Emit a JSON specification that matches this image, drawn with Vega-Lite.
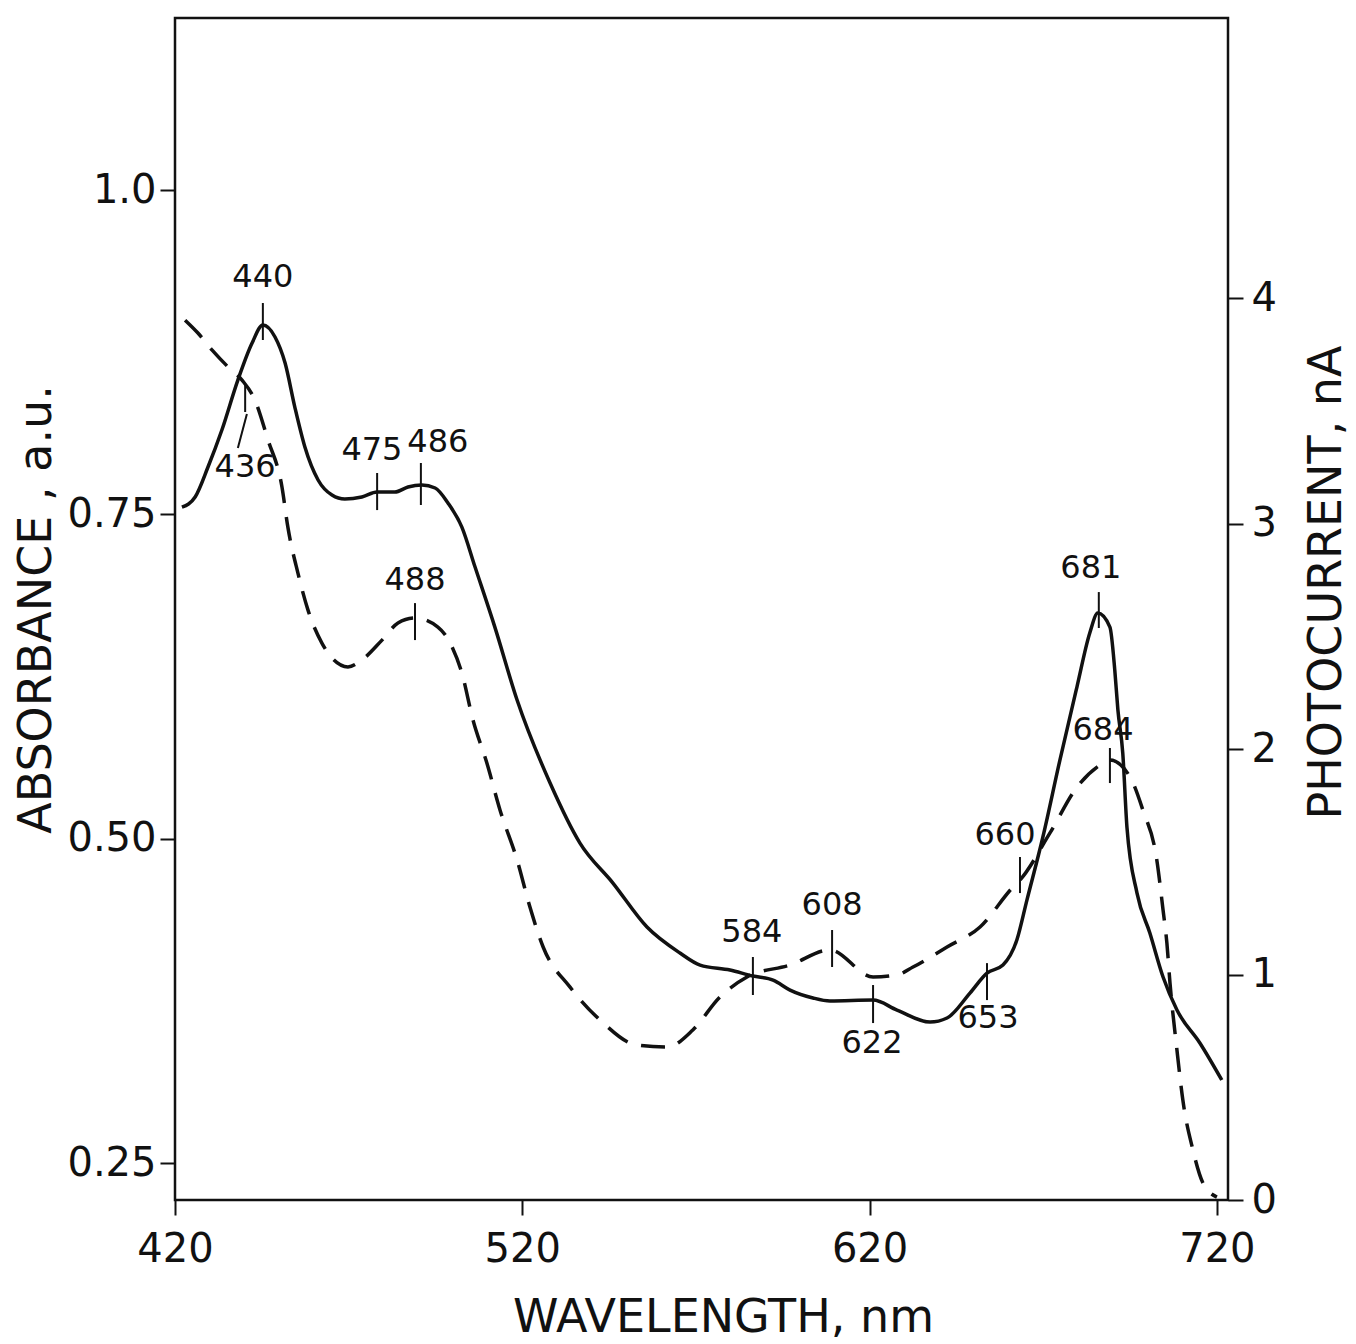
{
  "$schema": "https://vega.github.io/schema/vega-lite/v6.json",
  "width": 1053,
  "height": 1182,
  "autosize": {"type": "none"},
  "padding": {"left": 175, "top": 18, "right": 128, "bottom": 144},
  "background": "white",
  "config": {
    "view": {"stroke": "#111", "strokeWidth": 2.5},
    "font": "DejaVu Sans",
    "axis": {
      "domain": false,
      "grid": false,
      "ticks": true,
      "tickColor": "#111",
      "tickWidth": 2,
      "tickSize": 15,
      "labelFlush": false,
      "labelOverlap": false,
      "labelColor": "#111",
      "labelFont": "DejaVu Sans",
      "labelFontSize": 40,
      "titleFont": "DejaVu Sans",
      "titleFontSize": 46,
      "titleFontWeight": "normal",
      "titleColor": "#111"
    }
  },
  "datasets": {
    "abs": [
      {"wl": 422.0, "A": 0.7556}, {"wl": 425.8, "A": 0.7634}, {"wl": 429.5, "A": 0.7865},
      {"wl": 433.5, "A": 0.8150}, {"wl": 438.1, "A": 0.8535}, {"wl": 442.2, "A": 0.8821},
      {"wl": 445.3, "A": 0.8959}, {"wl": 448.8, "A": 0.8867}, {"wl": 451.7, "A": 0.8666},
      {"wl": 454.5, "A": 0.8327}, {"wl": 457.4, "A": 0.8019}, {"wl": 461.2, "A": 0.7765},
      {"wl": 465.2, "A": 0.7649}, {"wl": 468.9, "A": 0.7618}, {"wl": 473.8, "A": 0.7634},
      {"wl": 478.2, "A": 0.7672}, {"wl": 483.3, "A": 0.7672}, {"wl": 487.1, "A": 0.7711},
      {"wl": 491.1, "A": 0.7726}, {"wl": 494.9, "A": 0.7703}, {"wl": 498.6, "A": 0.7587},
      {"wl": 502.6, "A": 0.7402}, {"wl": 506.4, "A": 0.7094}, {"wl": 512.1, "A": 0.6631},
      {"wl": 518.5, "A": 0.6069}, {"wl": 528.0, "A": 0.5429}, {"wl": 536.6, "A": 0.4966},
      {"wl": 546.1, "A": 0.4658}, {"wl": 555.9, "A": 0.4319}, {"wl": 565.4, "A": 0.4119},
      {"wl": 571.2, "A": 0.4026}, {"wl": 579.8, "A": 0.3988}, {"wl": 586.4, "A": 0.3941},
      {"wl": 592.2, "A": 0.3910}, {"wl": 597.1, "A": 0.3833}, {"wl": 603.7, "A": 0.3772},
      {"wl": 608.6, "A": 0.3749}, {"wl": 621.0, "A": 0.3756}, {"wl": 627.9, "A": 0.3679},
      {"wl": 637.4, "A": 0.3587}, {"wl": 642.3, "A": 0.3618}, {"wl": 648.9, "A": 0.3810},
      {"wl": 653.8, "A": 0.3964}, {"wl": 658.4, "A": 0.4026}, {"wl": 662.4, "A": 0.4219},
      {"wl": 665.3, "A": 0.4527}, {"wl": 669.9, "A": 0.5013}, {"wl": 674.8, "A": 0.5606},
      {"wl": 679.7, "A": 0.6169}, {"wl": 683.4, "A": 0.6585}, {"wl": 685.7, "A": 0.6739},
      {"wl": 689.2, "A": 0.6631}, {"wl": 690.6, "A": 0.6300}, {"wl": 691.5, "A": 0.5992},
      {"wl": 692.9, "A": 0.5660}, {"wl": 694.1, "A": 0.5090}, {"wl": 697.0, "A": 0.4581},
      {"wl": 700.7, "A": 0.4273}, {"wl": 704.5, "A": 0.3934}, {"wl": 708.5, "A": 0.3679},
      {"wl": 715.1, "A": 0.3425}, {"wl": 721.4, "A": 0.3140}
    ],
    "pc": [
      {"wl": 422.9, "P": 3.902}, {"wl": 426.6, "P": 3.845}, {"wl": 430.7, "P": 3.769},
      {"wl": 435.3, "P": 3.694}, {"wl": 439.3, "P": 3.636}, {"wl": 443.0, "P": 3.548},
      {"wl": 446.8, "P": 3.370}, {"wl": 450.8, "P": 3.162}, {"wl": 452.5, "P": 2.984},
      {"wl": 455.4, "P": 2.780}, {"wl": 458.3, "P": 2.616}, {"wl": 462.3, "P": 2.470},
      {"wl": 469.8, "P": 2.364}, {"wl": 473.8, "P": 2.395}, {"wl": 479.6, "P": 2.483},
      {"wl": 484.2, "P": 2.559}, {"wl": 489.1, "P": 2.581}, {"wl": 495.7, "P": 2.541},
      {"wl": 499.8, "P": 2.452}, {"wl": 502.6, "P": 2.337}, {"wl": 505.8, "P": 2.129},
      {"wl": 509.8, "P": 1.938}, {"wl": 513.6, "P": 1.729}, {"wl": 518.5, "P": 1.508},
      {"wl": 522.2, "P": 1.299}, {"wl": 526.0, "P": 1.122}, {"wl": 533.7, "P": 0.945},
      {"wl": 542.4, "P": 0.798}, {"wl": 553.0, "P": 0.687}, {"wl": 561.7, "P": 0.678},
      {"wl": 569.1, "P": 0.754}, {"wl": 576.9, "P": 0.900}, {"wl": 584.7, "P": 0.989},
      {"wl": 597.1, "P": 1.042}, {"wl": 608.6, "P": 1.109}, {"wl": 621.0, "P": 0.989},
      {"wl": 627.9, "P": 0.998}, {"wl": 632.5, "P": 1.033}, {"wl": 642.3, "P": 1.122},
      {"wl": 651.8, "P": 1.211}, {"wl": 661.3, "P": 1.388}, {"wl": 663.3, "P": 1.419},
      {"wl": 671.9, "P": 1.627}, {"wl": 679.7, "P": 1.831}, {"wl": 685.5, "P": 1.920},
      {"wl": 689.2, "P": 1.951}, {"wl": 695.0, "P": 1.876}, {"wl": 698.7, "P": 1.729},
      {"wl": 702.7, "P": 1.508}, {"wl": 704.5, "P": 1.286}, {"wl": 705.6, "P": 1.140},
      {"wl": 706.5, "P": 0.962}, {"wl": 708.5, "P": 0.665}, {"wl": 710.2, "P": 0.443},
      {"wl": 713.1, "P": 0.222}, {"wl": 716.0, "P": 0.075}, {"wl": 720.0, "P": 0.013}
    ],
    "labels": [
      {"wl": 445.3, "A": 0.9329, "label": "440"},
      {"wl": 440.2, "A": 0.7865, "label": "436"},
      {"wl": 476.7, "A": 0.7996, "label": "475"},
      {"wl": 495.7, "A": 0.8058, "label": "486"},
      {"wl": 489.1, "A": 0.6994, "label": "488"},
      {"wl": 586.1, "A": 0.4280, "label": "584"},
      {"wl": 609.2, "A": 0.4489, "label": "608"},
      {"wl": 620.7, "A": 0.3425, "label": "622"},
      {"wl": 654.1, "A": 0.3617, "label": "653"},
      {"wl": 659.0, "A": 0.5028, "label": "660"},
      {"wl": 683.7, "A": 0.7086, "label": "681"},
      {"wl": 687.2, "A": 0.5837, "label": "684"}
    ],
    "ticks": [
      {"wl": 445.3, "wl2": 445.3, "A": 0.9129, "A2": 0.8844},
      {"wl": 440.2, "wl2": 440.2, "A": 0.8497, "A2": 0.8289},
      {"wl": 438.1, "wl2": 440.7, "A": 0.8011, "A2": 0.8273},
      {"wl": 478.2, "wl2": 478.2, "A": 0.7819, "A2": 0.7533},
      {"wl": 490.8, "wl2": 490.8, "A": 0.7896, "A2": 0.7572},
      {"wl": 489.1, "wl2": 489.1, "A": 0.6816, "A2": 0.6531},
      {"wl": 586.4, "wl2": 586.4, "A": 0.4088, "A2": 0.3795},
      {"wl": 609.2, "wl2": 609.2, "A": 0.4296, "A2": 0.4011},
      {"wl": 621.0, "wl2": 621.0, "A": 0.3872, "A2": 0.3579},
      {"wl": 653.8, "wl2": 653.8, "A": 0.4041, "A2": 0.3756},
      {"wl": 663.3, "wl2": 663.3, "A": 0.4859, "A2": 0.4581},
      {"wl": 686.0, "wl2": 686.0, "A": 0.6901, "A2": 0.6624},
      {"wl": 689.2, "wl2": 689.2, "A": 0.5699, "A2": 0.5429}
    ]
  },
  "encoding": {
    "x": {
      "field": "wl", "type": "quantitative",
      "scale": {"domain": [420, 723.2], "nice": false, "zero": false},
      "axis": {
        "orient": "bottom", "values": [420, 520, 620, 720], "format": "d",
        "labelPadding": 14, "title": "WAVELENGTH, nm", "titlePadding": 26, "titleX": 548
      }
    }
  },
  "layer": [
    {
      "data": {"name": "abs"},
      "mark": {"type": "line", "interpolate": "monotone", "strokeWidth": 3.5, "color": "#111"},
      "encoding": {
        "y": {
          "field": "A", "type": "quantitative",
          "scale": {"domain": [0.2215, 1.1326], "nice": false, "zero": false},
          "axis": {
            "orient": "left", "values": [0.25, 0.5, 0.75, 1.0],
            "labelExpr": "datum.value == 1 ? '1.0' : format(datum.value, '.2f')",
            "labelPadding": 4, "title": "ABSORBANCE , a.u.", "titlePadding": 6
          }
        }
      }
    },
    {
      "data": {"name": "ticks"},
      "mark": {"type": "rule", "strokeWidth": 2, "color": "#111"},
      "encoding": {
        "x2": {"field": "wl2"},
        "y": {"field": "A", "type": "quantitative", "scale": {"domain": [0.2215, 1.1326], "nice": false, "zero": false}, "axis": null},
        "y2": {"field": "A2"}
      }
    },
    {
      "data": {"name": "labels"},
      "mark": {"type": "text", "fontSize": 32, "align": "center", "baseline": "middle", "color": "#111", "font": "DejaVu Sans"},
      "encoding": {
        "y": {"field": "A", "type": "quantitative", "scale": {"domain": [0.2215, 1.1326], "nice": false, "zero": false}, "axis": null},
        "text": {"field": "label"}
      }
    },
    {
      "data": {"name": "pc"},
      "mark": {"type": "line", "interpolate": "monotone", "strokeWidth": 3.5, "strokeDash": [24, 14], "color": "#111"},
      "encoding": {
        "y": {
          "field": "P", "type": "quantitative",
          "scale": {"domain": [0, 5.242], "nice": false, "zero": false},
          "axis": {
            "orient": "right", "values": [0, 1, 2, 3, 4], "format": "d",
            "labelPadding": 8, "title": "PHOTOCURRENT, nA", "titleAngle": 270,
            "titlePadding": 74, "titleY": 564
          }
        }
      }
    }
  ],
  "resolve": {"scale": {"y": "independent"}, "axis": {"y": "independent"}}
}
